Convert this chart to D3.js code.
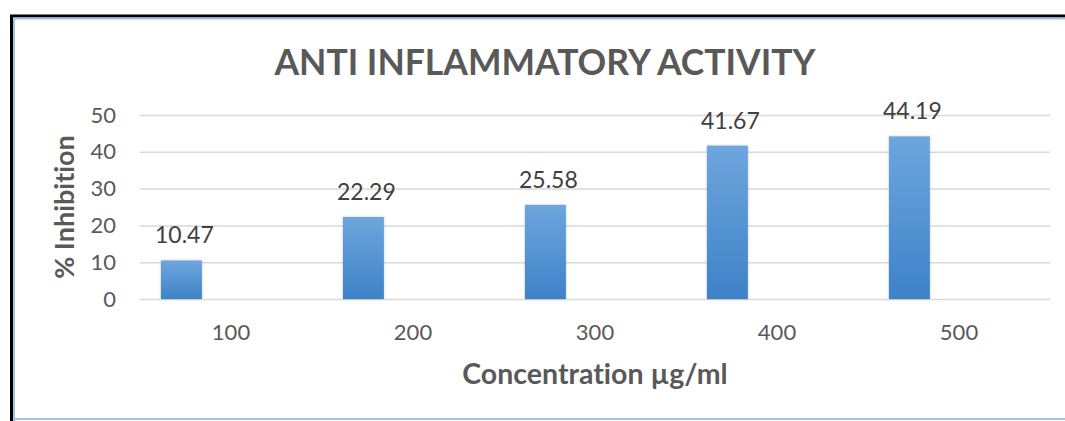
<!DOCTYPE html>
<html>
<head>
<meta charset="utf-8">
<script src="https://cdn.jsdelivr.net/npm/d3@7"></script>
<style>
  body { margin: 0; background: #fff; }
  text { font-family: Lato, "Open Sans", sans-serif; font-variant-ligatures: none; }
</style>
</head>
<body>
<script>
// chart data
var concentrations = ["100", "200", "300", "400", "500"];
var inhibition = [10.47, 22.29, 25.58, 41.67, 44.19];
var yTicks = [0, 10, 20, 30, 40, 50];

var W = 1065, H = 421;
var plot = {left: 140, right: 1050, top: 115, bottom: 299};

var svg = d3.select("body").append("svg")
    .attr("width", W)
    .attr("height", H);

// frame: black outer edge + light blue inner line
svg.append("path")
    .attr("d", "M11.5," + H + " V16 H" + W)
    .attr("fill", "none").attr("stroke", "#000").attr("stroke-width", 3);
svg.append("path")
    .attr("d", "M14," + H + " V18.5 H" + W)
    .attr("fill", "none").attr("stroke", "#9dc3e6").attr("stroke-width", 2);
svg.append("line")
    .attr("x1", 13).attr("x2", W).attr("y1", 419).attr("y2", 419)
    .attr("stroke", "#9dc3e6").attr("stroke-width", 2);

var x = d3.scaleBand()
    .domain(concentrations)
    .range([plot.left, plot.right]);

var y = d3.scaleLinear()
    .domain([0, 50])
    .range([plot.bottom, plot.top]);

// bar gradient
var defs = svg.append("defs");
var grad = defs.append("linearGradient")
    .attr("id", "barGrad")
    .attr("x1", 0).attr("y1", 0).attr("x2", 0).attr("y2", 1);
grad.append("stop").attr("offset", "0%").attr("stop-color", "#6ea6dd");
grad.append("stop").attr("offset", "100%").attr("stop-color", "#3e82c8");

var shadow = defs.append("filter").attr("id", "shadow")
    .attr("x", "-20%").attr("y", "-5%").attr("width", "140%").attr("height", "110%");
shadow.append("feDropShadow")
    .attr("dx", 0).attr("dy", 0).attr("stdDeviation", 1.2)
    .attr("flood-color", "#000").attr("flood-opacity", 0.25);

// gridlines
var yAxis = d3.axisLeft(y)
    .tickValues(yTicks)
    .tickSize(-(plot.right - plot.left))
    .tickPadding(24);

var gy = svg.append("g")
    .attr("transform", "translate(" + plot.left + ",0)")
    .call(yAxis);
gy.select(".domain").remove();
gy.selectAll(".tick line").attr("stroke", "#d9d9d9").attr("stroke-width", 1.5);
gy.selectAll(".tick text")
    .attr("fill", "#595959")
    .style("font-size", "22px");

// x axis labels
var xAxis = d3.axisBottom(x).tickSize(0).tickPadding(25);
var gx = svg.append("g")
    .attr("transform", "translate(0," + plot.bottom + ")")
    .call(xAxis);
gx.select(".domain").remove();
gx.selectAll(".tick text")
    .attr("fill", "#595959")
    .style("font-size", "22px");

// bars sit in the left part of each category slot
var barOffset = x.bandwidth() * 0.115;
var barWidth = x.bandwidth() * 0.225;

var data = concentrations.map(function(c, i) { return {c: c, v: inhibition[i]}; });

svg.selectAll(".bar")
    .data(data)
    .enter().append("rect")
    .attr("class", "bar")
    .attr("x", function(d) { return x(d.c) + barOffset; })
    .attr("y", function(d) { return y(d.v); })
    .attr("width", barWidth)
    .attr("height", function(d) { return y(0) - y(d.v); })
    .attr("fill", "url(#barGrad)")
    .attr("filter", "url(#shadow)");

// value labels
svg.selectAll(".val")
    .data(data)
    .enter().append("text")
    .attr("class", "val")
    .attr("x", function(d) { return x(d.c) + barOffset + barWidth / 2 + 3; })
    .attr("y", function(d) { return y(d.v) - 17; })
    .attr("text-anchor", "middle")
    .attr("fill", "#404040")
    .style("font-size", "23px")
    .text(function(d) { return d.v.toFixed(2); });

// titles
svg.append("text")
    .attr("x", 545)
    .attr("y", 75)
    .attr("text-anchor", "middle")
    .attr("fill", "#595959")
    .style("font-size", "35.5px")
    .style("font-weight", "bold")
    .text("ANTI INFLAMMATORY ACTIVITY");

svg.append("text")
    .attr("x", 595)
    .attr("y", 384)
    .attr("text-anchor", "middle")
    .attr("fill", "#595959")
    .style("font-size", "28.5px")
    .style("font-weight", "bold")
    .text("Concentration µg/ml");

svg.append("text")
    .attr("transform", "translate(74,207) rotate(-90)")
    .attr("text-anchor", "middle")
    .attr("fill", "#595959")
    .style("font-size", "27px")
    .style("font-weight", "bold")
    .text("% Inhibition");
</script>
</body>
</html>
